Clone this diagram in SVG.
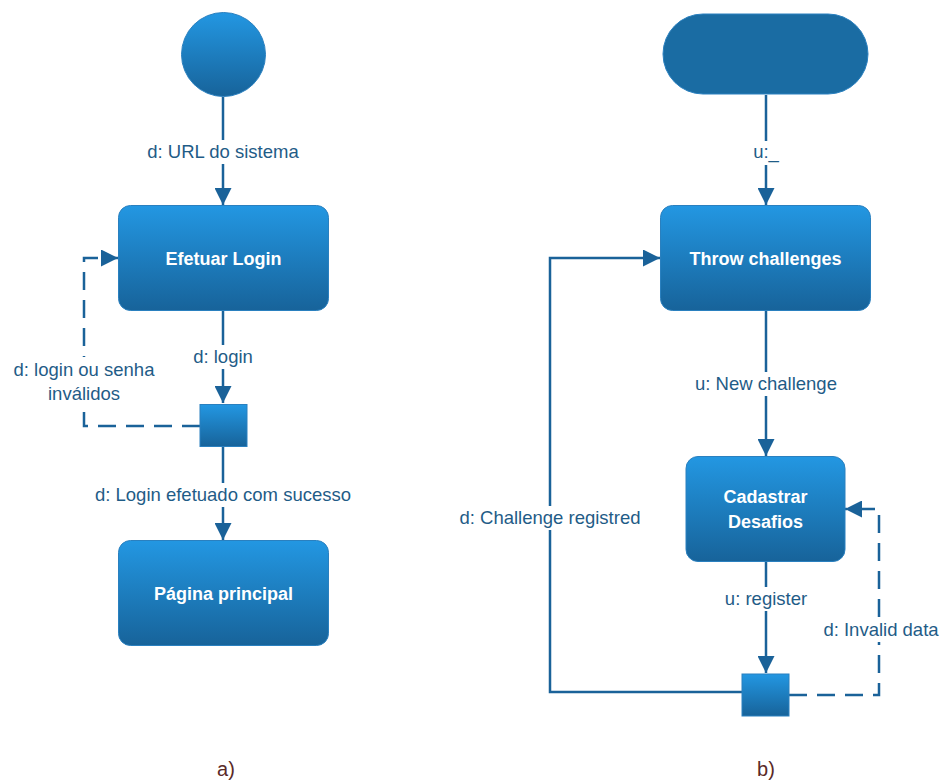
<svg xmlns="http://www.w3.org/2000/svg" width="944" height="781" viewBox="0 0 944 781">
<defs>
<linearGradient id="g" x1="0" y1="0" x2="0" y2="1">
<stop offset="0" stop-color="#2397e2"/>
<stop offset="1" stop-color="#17639a"/>
</linearGradient>
<marker id="ah" markerWidth="17" markerHeight="17" viewBox="0 0 17 17" refX="17" refY="8.5" orient="auto" markerUnits="userSpaceOnUse">
<path d="M0,0 L17,8.5 L0,17 Z" fill="#1a6299"/>
</marker>
<style>
.node{fill:url(#g);stroke:#2a80bf;stroke-width:1}
.ln{fill:none;stroke:#1a6299;stroke-width:2.5}
.dash{stroke-dasharray:18 10}
.lbl{font-family:"Liberation Sans",Arial,sans-serif;font-size:18.5px;fill:#1f5c87;text-anchor:middle}
.bg{fill:#ffffff}
.nt{font-family:"Liberation Sans",Arial,sans-serif;font-size:18px;font-weight:bold;fill:#ffffff;text-anchor:middle}
.cap{font-family:"Liberation Sans",Arial,sans-serif;font-size:20px;fill:#5a2a28;text-anchor:middle}
</style>
</defs>
<rect width="944" height="781" fill="#ffffff"/>
<g id="connectors">
<line class="ln" x1="223" y1="97" x2="223" y2="205" marker-end="url(#ah)"/>
<line class="ln" x1="223" y1="311" x2="223" y2="403" marker-end="url(#ah)"/>
<line class="ln" x1="223" y1="447" x2="223" y2="540" marker-end="url(#ah)"/>
<polyline class="ln dash" points="200,426 84,426 84,258 118,258" marker-end="url(#ah)"/>
<line class="ln" x1="766" y1="95" x2="766" y2="205" marker-end="url(#ah)"/>
<line class="ln" x1="766" y1="311" x2="766" y2="456" marker-end="url(#ah)"/>
<line class="ln" x1="766" y1="562" x2="766" y2="673" marker-end="url(#ah)"/>
<polyline class="ln" points="742,692 550,692 550,258 660,258" marker-end="url(#ah)"/>
<polyline class="ln dash" points="789,695 879,695 879,509 845,509" marker-end="url(#ah)"/>
<rect class="bg" x="140" y="140" width="166" height="24"/>
<text class="lbl" x="223" y="158">d: URL do sistema</text>
<rect class="bg" x="186" y="345" width="74" height="24"/>
<text class="lbl" x="223" y="363">d: login</text>
<rect class="bg" x="6" y="357" width="156" height="50"/>
<text class="lbl" x="84" y="376">d: login ou senha</text>
<text class="lbl" x="84" y="400">inválidos</text>
<rect class="bg" x="84" y="483" width="278" height="24"/>
<text class="lbl" x="223" y="501">d: Login efetuado com sucesso</text>
<rect class="bg" x="748" y="141" width="36" height="24"/>
<text class="lbl" x="766" y="158">u:_</text>
<rect class="bg" x="688" y="372" width="156" height="24"/>
<text class="lbl" x="766" y="390">u: New challenge</text>
<rect class="bg" x="714" y="587" width="104" height="24"/>
<text class="lbl" x="766" y="605">u: register</text>
<rect class="bg" x="452" y="506" width="198" height="24"/>
<text class="lbl" x="550" y="524">d: Challenge registred</text>
<rect class="bg" x="814" y="618" width="130" height="24"/>
<text class="lbl" x="881" y="636">d: Invalid data</text>
</g>
<g id="start-a"><circle class="node" cx="223.5" cy="54.5" r="42"/></g>
<g id="efetuar-login"><rect class="node" x="118.5" y="205.5" width="210" height="105" rx="12"/><text class="nt" x="223.5" y="265">Efetuar Login</text></g>
<g id="decision-a"><rect class="node" x="200" y="404.5" width="47" height="42" rx="0"/></g>
<g id="pagina-principal"><rect class="node" x="118.5" y="540.5" width="210" height="105" rx="12"/><text class="nt" x="223.5" y="600">Página principal</text></g>
<g id="start-b"><rect x="663" y="14" width="205" height="80" rx="40" fill="#1a6ca3" stroke="#2a80bf" stroke-width="1"/></g>
<g id="throw-challenges"><rect class="node" x="660.5" y="205.5" width="210" height="105" rx="12"/><text class="nt" x="765.5" y="265">Throw challenges</text></g>
<g id="cadastrar-desafios"><rect class="node" x="686" y="456.5" width="159" height="105" rx="12"/><text class="nt" x="765.5" y="503">Cadastrar</text><text class="nt" x="765.5" y="528">Desafios</text></g>
<g id="decision-b"><rect class="node" x="742" y="674" width="47" height="42" rx="0"/></g>
<text class="cap" x="226" y="776">a)</text>
<text class="cap" x="766" y="776">b)</text>
</svg>
